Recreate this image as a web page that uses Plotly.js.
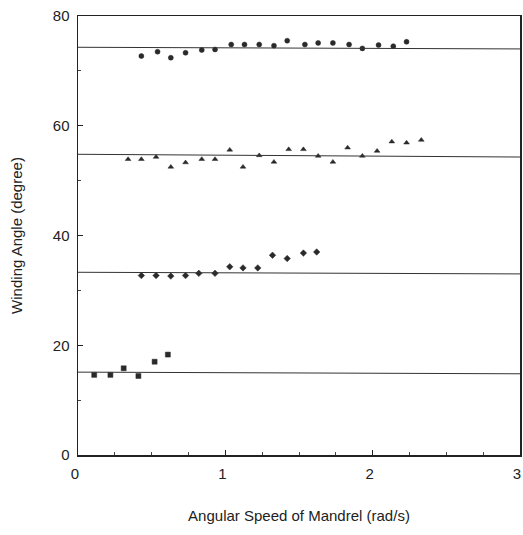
<!DOCTYPE html>
<html>
<head>
<meta charset="utf-8">
<script src="https://cdn.plot.ly/plotly-3.0.1.min.js"></script>
<style>html,body{margin:0;padding:0;background:#fff;}#chart{width:523px;height:535px;}</style>
</head>
<body>
<div id="chart"></div>
<script>
// Series A (~74 deg)
const xA = [0.43,0.54,0.63,0.73,0.84,0.93,1.04,1.13,1.23,1.33,1.42,1.54,1.63,1.73,1.84,1.93,2.04,2.14,2.23];
const yA = [72.7,73.5,72.4,73.3,73.8,73.9,74.8,74.8,74.8,74.6,75.5,74.8,75.1,75.1,74.8,74.1,74.7,74.5,75.3];
// Series B (~55 deg)
const xB = [0.34,0.43,0.53,0.63,0.73,0.84,0.93,1.03,1.12,1.23,1.33,1.43,1.53,1.63,1.73,1.83,1.93,2.03,2.13,2.23,2.33];
const yB = [53.9,53.9,54.3,52.5,53.3,53.9,53.9,55.6,52.5,54.6,53.4,55.7,55.7,54.5,53.4,56.0,54.5,55.4,57.1,56.9,57.4];
// Series C (~33 deg)
const xC = [0.43,0.53,0.63,0.73,0.82,0.93,1.03,1.12,1.22,1.32,1.42,1.53,1.62];
const yC = [32.7,32.7,32.6,32.7,33.1,33.1,34.3,34.1,34.1,36.4,35.8,36.8,37.0];
// Series D (~15 deg)
const xD = [0.11,0.22,0.31,0.41,0.52,0.61];
const yD = [14.6,14.6,15.8,14.4,17.0,18.3];
// Reference lines: value at x=0 and at x=3
const refLeft  = [74.3, 54.8, 33.3, 15.1];
const refRight = [74.0, 54.3, 33.0, 14.8];
const refX = [0, 3];

const mk = (sym) => ({color:'#2a2a2a', size:5, symbol:sym, line:{color:'#2a2a2a', width:0.5}});
const traces = [
  {x:xA, y:yA, mode:'markers', type:'scatter', marker:mk('circle')},
  {x:xB, y:yB, mode:'markers', type:'scatter', marker:mk('triangle-up')},
  {x:xC, y:yC, mode:'markers', type:'scatter', marker:mk('diamond')},
  {x:xD, y:yD, mode:'markers', type:'scatter', marker:mk('square')}
];
refLeft.forEach((v,i) => traces.push({x:refX, y:[v, refRight[i]], mode:'lines', type:'scatter', line:{color:'#333', width:1}, hoverinfo:'skip'}));

const tickFont = {family:'Liberation Sans, Arial, sans-serif', size:15, color:'#222'};
const titleFont = {family:'Liberation Sans, Arial, sans-serif', size:15, color:'#222'};
const layout = {
  width:523, height:535,
  margin:{l:78, r:3, t:16, b:80},
  showlegend:false,
  paper_bgcolor:'#fff', plot_bgcolor:'#fff',
  font:tickFont,
  xaxis:{range:[0,3], dtick:1, tick0:0, showgrid:false, zeroline:false,
    showline:true, linecolor:'#222', linewidth:1.5, mirror:true,
    ticks:'inside', ticklen:5, tickcolor:'#222',
    minor:{dtick:0.25, ticks:'inside', ticklen:3, tickcolor:'#444'},
    tickfont:tickFont, ticklabeloverflow:'allow', ticklabelstandoff:4, ticklabelshift:-3,
    title:{text:'Angular Speed of Mandrel (rad/s)', font:titleFont, standoff:30}},
  yaxis:{range:[0,80], dtick:20, tick0:0, showgrid:false, zeroline:false,
    showline:true, linecolor:'#222', linewidth:1.5, mirror:true,
    ticks:'inside', ticklen:5, tickcolor:'#222',
    minor:{dtick:10, ticks:'inside', ticklen:3, tickcolor:'#444'},
    tickfont:tickFont, ticklabelstandoff:4,
    title:{text:'Winding Angle (degree)', font:titleFont, standoff:26}}
};
Plotly.newPlot('chart', traces, layout, {displayModeBar:false, staticPlot:true});
</script>
</body>
</html>
